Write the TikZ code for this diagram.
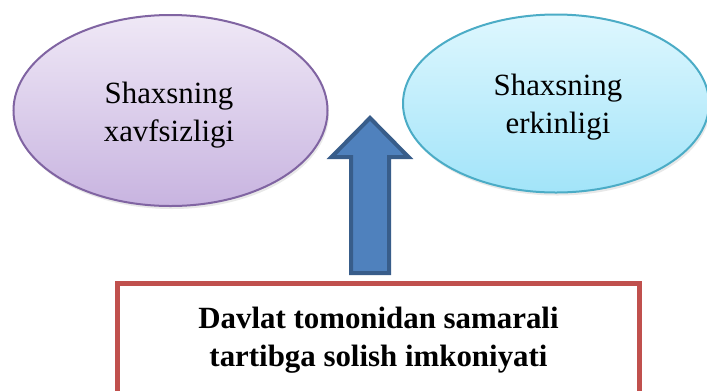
\documentclass[tikz,border=0pt]{standalone}
\usepackage{fontspec}
\setmainfont{LiberationSerif}[Extension=.ttf, UprightFont=*-Regular, BoldFont=*-Bold, ItalicFont=*-Italic, BoldItalicFont=*-BoldItalic]
\usetikzlibrary{shapes.geometric,shadows}
\definecolor{lavtop}{HTML}{EFE8F6}
\definecolor{lavbot}{HTML}{C8B4E0}
\definecolor{lavline}{HTML}{8064A2}
\definecolor{cyantop}{HTML}{DEF7FE}
\definecolor{cyanbot}{HTML}{A2E4F9}
\definecolor{cyanline}{HTML}{4BACC6}
\definecolor{arrowfill}{HTML}{4F81BD}
\definecolor{arrowline}{HTML}{385D8A}
\definecolor{boxline}{HTML}{C0504D}
\tikzset{
  bubble/.style={ellipse, inner sep=0pt, line width=2bp,
    drop shadow={opacity=0.18, shadow xshift=1.5bp, shadow yshift=-3bp}},
  bubbletext/.style={align=center, inner sep=0pt, font=\fontsize{31}{38}\selectfont},
  framebox/.style={draw=boxline, line width=5bp, fill=white, inner sep=0pt},
  boxtext/.style={align=center, inner sep=0pt, font=\bfseries\fontsize{31}{38}\selectfont},
  blockarrow/.style={fill=arrowfill, draw=arrowline, line width=4bp, line join=miter}
}
\begin{document}
\begin{tikzpicture}[x=1bp,y=-1bp]
\useasboundingbox (0,0) rectangle (707,390);
\fill[white] (0,0) rectangle (707,390);
\node[bubble, draw=lavline, top color=lavtop, bottom color=lavbot,
  minimum width=314bp, minimum height=191bp] (safe) at (170.5,110.5) {};
\node[bubbletext] (safet) at (169,115) {Shaxsning\\xavfsizligi};
\node[bubble, draw=cyanline, top color=cyantop, bottom color=cyanbot,
  minimum width=306bp, minimum height=178bp] (free) at (556,103.5) {};
\node[bubbletext] (freet) at (558,107) {Shaxsning\\erkinligi};
\node[framebox, minimum width=521bp, minimum height=110bp] (state) at (378.5,338) {};
\node[boxtext] (statet) at (378.5,340) {Davlat tomonidan samarali\\tartibga solish imkoniyati};
\coordinate (tip) at (370,118);
\draw[blockarrow] (351,273) -- (351,157) -- (331.5,157) -- (tip) -- (408.5,157) -- (389,157) -- (389,273) -- cycle;
\end{tikzpicture}
\end{document}
